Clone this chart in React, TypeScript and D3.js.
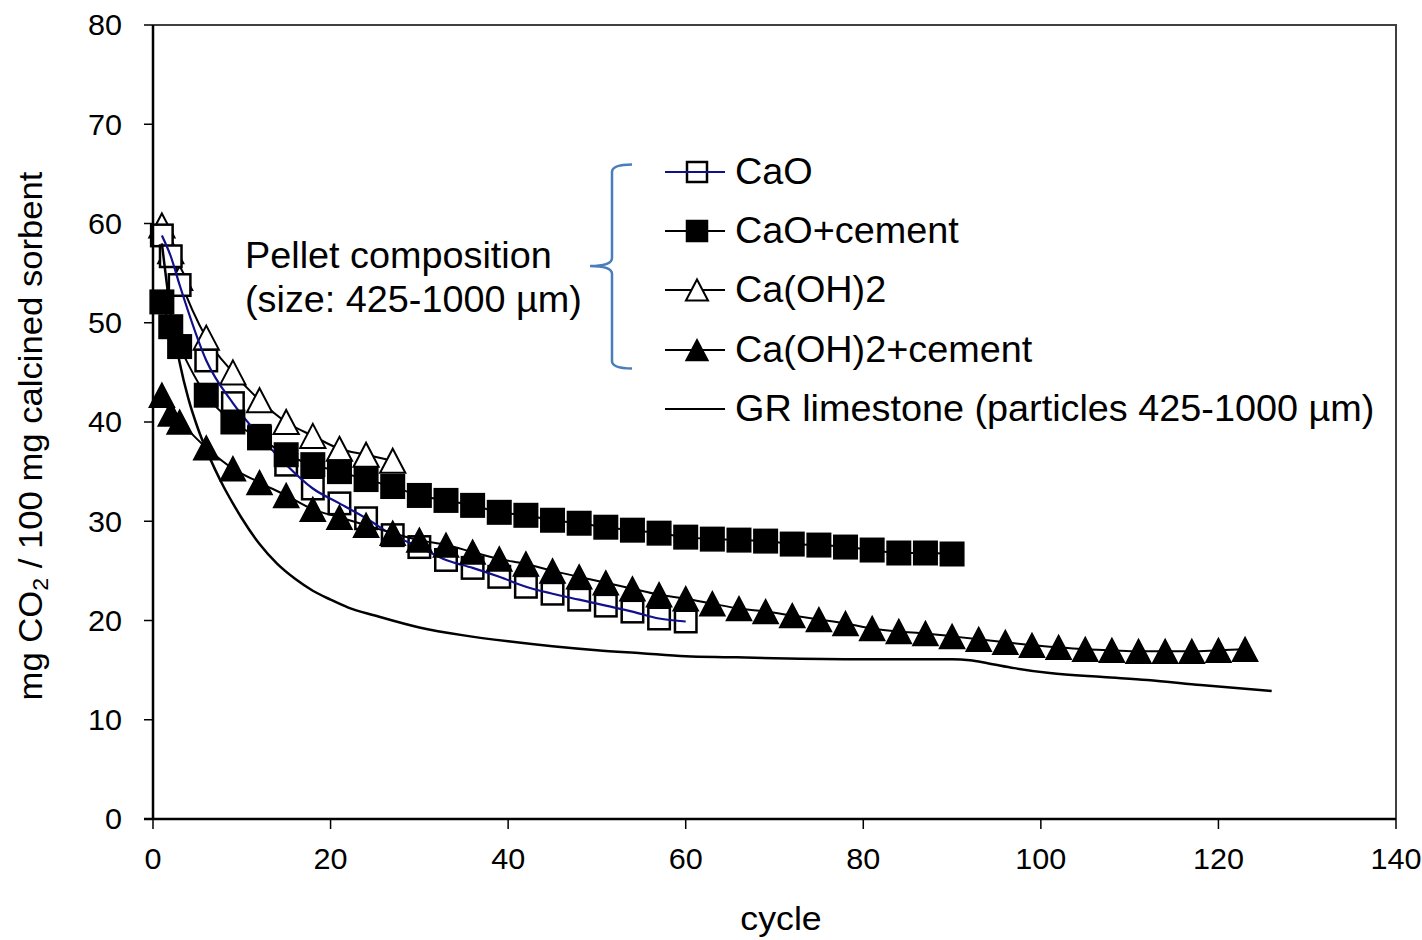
import React from 'react';
import * as d3 from 'd3';

// ---------- data ----------
const caoCycles = [1, 2, 3, 6, 9, 12, 15, 18, 21, 24, 27, 30, 33, 36, 39, 42, 45, 48, 51, 54, 57, 60];
const caoValues = [58.8, 56.7, 53.8, 46.2, 41.9, 38.6, 35.7, 33.3, 31.8, 30.3, 28.6, 27.4, 26.1, 25.3, 24.4, 23.4, 22.7, 22.1, 21.5, 20.9, 20.2, 19.9];

const caoCementCycles = [1, 2, 3, 6, 9, 12, 15, 18, 21, 24, 27, 30, 33, 36, 39, 42, 45, 48, 51, 54, 57, 60, 63, 66, 69, 72, 75, 78, 81, 84, 87, 90];
const caoCementValues = [52.1, 49.6, 47.6, 42.7, 40.0, 38.4, 36.7, 35.7, 35.0, 34.2, 33.5, 32.6, 32.1, 31.6, 30.9, 30.6, 30.1, 29.8, 29.4, 29.1, 28.8, 28.4, 28.2, 28.1, 28.0, 27.7, 27.6, 27.4, 27.1, 26.8, 26.8, 26.7];

const caohCycles = [1, 2, 3, 6, 9, 12, 15, 18, 21, 24, 27];
const caohValues = [59.8, 57.2, 54.5, 48.5, 45.0, 42.2, 40.0, 38.6, 37.3, 36.7, 36.1];

const caohCementCycles = [1, 2, 3, 6, 9, 12, 15, 18, 21, 24, 27, 30, 33, 36, 39, 42, 45, 48, 51, 54, 57, 60, 63, 66, 69, 72, 75, 78, 81, 84, 87, 90, 93, 96, 99, 102, 105, 108, 111, 114, 117, 120, 123];
const caohCementValues = [42.7, 40.8, 40.0, 37.4, 35.3, 33.9, 32.6, 31.2, 30.4, 29.6, 28.8, 28.1, 27.6, 26.9, 26.2, 25.7, 25.0, 24.4, 23.8, 23.2, 22.6, 22.2, 21.7, 21.2, 20.9, 20.5, 20.1, 19.7, 19.2, 18.9, 18.7, 18.4, 18.1, 17.8, 17.5, 17.3, 17.1, 17.0, 16.9, 16.9, 16.9, 17.0, 17.1];

const limeCycles = [1, 2, 3, 4, 5, 6, 7, 8, 9, 10, 12, 14, 16, 18, 20, 22, 25, 30, 35, 40, 45, 50, 55, 60, 65, 70, 80, 90, 92, 94, 97, 101, 107, 112, 118, 126];
const limeValues = [58.0, 51.0, 46.0, 42.3, 39.5, 37.2, 35.2, 33.4, 31.8, 30.3, 27.7, 25.7, 24.2, 23.0, 22.1, 21.3, 20.5, 19.3, 18.5, 17.9, 17.4, 17.0, 16.7, 16.4, 16.3, 16.2, 16.1, 16.1, 16.0, 15.7, 15.2, 14.7, 14.3, 14.0, 13.5, 12.9];

const xTicks = [0, 20, 40, 60, 80, 100, 120, 140];
const yTicks = [0, 10, 20, 30, 40, 50, 60, 70, 80];

const legendLabels = ['CaO', 'CaO+cement', 'Ca(OH)2', 'Ca(OH)2+cement', 'GR limestone (particles 425-1000 µm)'];
const noteLines = ['Pellet composition', '(size: 425-1000 µm)'];
const xTitle = 'cycle';

// ---------- layout ----------
const W = 1422;
const H = 940;
const X0 = 153, X1 = 1396, Y0 = 819, Y1 = 25;
const FONT = '"Liberation Sans", Arial, "Helvetica", sans-serif';
const SX = 1.05; // horizontal text stretch

const x = d3.scaleLinear().domain([0, 140]).range([X0, X1]);
const y = d3.scaleLinear().domain([0, 80]).range([Y0, Y1]);

const zip = (cs: number[], vs: number[]) => cs.map((c, i) => [c, vs[i]] as [number, number]);

const line = d3
  .line<[number, number]>()
  .x((d) => x(d[0]))
  .y((d) => y(d[1]))
  .curve(d3.curveMonotoneX);

const tri = (cx: number, cy: number, w: number, h: number) =>
  `M${cx},${cy - h / 2}L${cx + w / 2},${cy + h / 2}L${cx - w / 2},${cy + h / 2}Z`;

function Marker({ kind, cx, cy, s }: { kind: string; cx: number; cy: number; s: number }) {
  if (kind === 'openSq')
    return <rect x={cx - s / 2} y={cy - s / 2} width={s} height={s} fill="#fff" stroke="#000" strokeWidth={2.5} />;
  if (kind === 'fillSq')
    return <rect x={cx - s / 2} y={cy - s / 2} width={s} height={s} fill="#000" stroke="#000" strokeWidth={1.5} />;
  if (kind === 'openTri')
    return <path d={tri(cx, cy, s * 1.05, s)} fill="#fff" stroke="#000" strokeWidth={2} strokeLinejoin="miter" />;
  if (kind === 'fillTri')
    return <path d={tri(cx, cy, s * 1.05, s)} fill="#000" stroke="#000" strokeWidth={1.5} />;
  return null;
}

function STxt(props: any) {
  const { x: tx, y: ty, anchor, size, sx, children, ...rest } = props;
  return (
    <text
      transform={`translate(${tx},${ty}) scale(${sx ?? SX},1)`}
      textAnchor={anchor || 'start'}
      fontSize={size}
      fontFamily={FONT}
      fill="#000"
      {...rest}
    >
      {children}
    </text>
  );
}

export default function App() {
  const cao = zip(caoCycles, caoValues);
  const caoC = zip(caoCementCycles, caoCementValues);
  const caoh = zip(caohCycles, caohValues);
  const caohC = zip(caohCementCycles, caohCementValues);
  const lime = zip(limeCycles, limeValues);

  const legendX1 = 665, legendX2 = 725, legendMX = 697, legendTX = 735;
  const legendY = [172, 231, 290, 350, 409];
  const kinds = ['openSq', 'fillSq', 'openTri', 'fillTri', ''];

  return (
    <svg width={W} height={H} style={{ position: 'absolute', left: 0, top: 0, background: '#fff' }}>
      <rect x={0} y={0} width={W} height={H} fill="#fff" />

      {/* frame top/right */}
      <path d={`M${X0},${Y1}H${X1}V${Y0}`} fill="none" stroke="#404040" strokeWidth={2} />

      {/* series: Ca(OH)2 */}
      <path d={line(caoh) || ''} fill="none" stroke="#000" strokeWidth={2} />
      {caoh.map((d, i) => (
        <Marker key={'t' + i} kind="openTri" cx={x(d[0])} cy={y(d[1])} s={24} />
      ))}

      {/* series: CaO */}
      {cao.map((d, i) => (
        <Marker key={'s' + i} kind="openSq" cx={x(d[0])} cy={y(d[1])} s={21.5} />
      ))}
      <path d={line(cao) || ''} fill="none" stroke="#10108a" strokeWidth={2.2} />

      {/* series: CaO + cement */}
      <path d={line(caoC) || ''} fill="none" stroke="#000" strokeWidth={2} />
      {caoC.map((d, i) => (
        <Marker key={'f' + i} kind="fillSq" cx={x(d[0])} cy={y(d[1])} s={23.5} />
      ))}

      {/* series: Ca(OH)2 + cement */}
      <path d={line(caohC) || ''} fill="none" stroke="#000" strokeWidth={2} />
      {caohC.map((d, i) => (
        <Marker key={'ft' + i} kind="fillTri" cx={x(d[0])} cy={y(d[1])} s={24} />
      ))}

      {/* GR limestone */}
      <path d={line(lime) || ''} fill="none" stroke="#000" strokeWidth={2.5} />

      {/* axes */}
      <line x1={X0} x2={X0} y1={Y1} y2={Y0 + 1} stroke="#000" strokeWidth={2.5} />
      <line x1={X0 - 9} x2={X1} y1={Y0} y2={Y0} stroke="#000" strokeWidth={2.5} />
      {yTicks.map((t) => (
        <g key={'yt' + t}>
          <line x1={X0 - 9} x2={X0} y1={y(t)} y2={y(t)} stroke="#000" strokeWidth={1.5} />
          <STxt x={122} y={y(t)} anchor="end" size={30} sx={1.02} dominantBaseline="central">
            {t}
          </STxt>
        </g>
      ))}
      {xTicks.map((t) => (
        <g key={'xt' + t}>
          <line x1={x(t)} x2={x(t)} y1={Y0} y2={Y0 + 10} stroke="#000" strokeWidth={1.5} />
          <STxt x={x(t)} y={869} anchor="middle" size={30} sx={1.02}>
            {t}
          </STxt>
        </g>
      ))}

      {/* axis titles */}
      <STxt x={781} y={930} anchor="middle" size={34}>
        {xTitle}
      </STxt>
      <text
        transform={`translate(42,436) rotate(-90) scale(${SX},1)`}
        textAnchor="middle"
        fontSize={33}
        fontFamily={FONT}
        fill="#000"
      >
        mg CO<tspan fontSize={22} dy={6}>2</tspan>
        <tspan dy={-6}> / 100 mg calcined sorbent</tspan>
      </text>

      {/* annotation */}
      <STxt x={245} y={268} size={36}>
        {noteLines[0]}
      </STxt>
      <STxt x={245} y={312} size={36}>
        {noteLines[1]}
      </STxt>
      <path
        d="M632,164.5 Q612,164.5 612,172 V258 Q612,266 590,266 Q612,266 612,274 V361 Q612,368.5 632,368.5"
        fill="none"
        stroke="#4a7ebb"
        strokeWidth={2.5}
      />

      {/* legend */}
      {legendLabels.map((lab, i) => (
        <g key={'lg' + i}>
          {kinds[i] === 'openSq' ? (
            <>
              <Marker kind="openSq" cx={legendMX} cy={legendY[i]} s={20} />
              <line x1={legendX1} x2={legendX2} y1={legendY[i]} y2={legendY[i]} stroke="#10108a" strokeWidth={2.2} />
            </>
          ) : (
            <>
              <line x1={legendX1} x2={legendX2} y1={legendY[i]} y2={legendY[i]} stroke="#000" strokeWidth={2.2} />
              {kinds[i] && <Marker kind={kinds[i]} cx={legendMX} cy={legendY[i]} s={21} />}
            </>
          )}
          <STxt x={legendTX} y={legendY[i]} size={36} dominantBaseline="central">
            {lab}
          </STxt>
        </g>
      ))}
    </svg>
  );
}
